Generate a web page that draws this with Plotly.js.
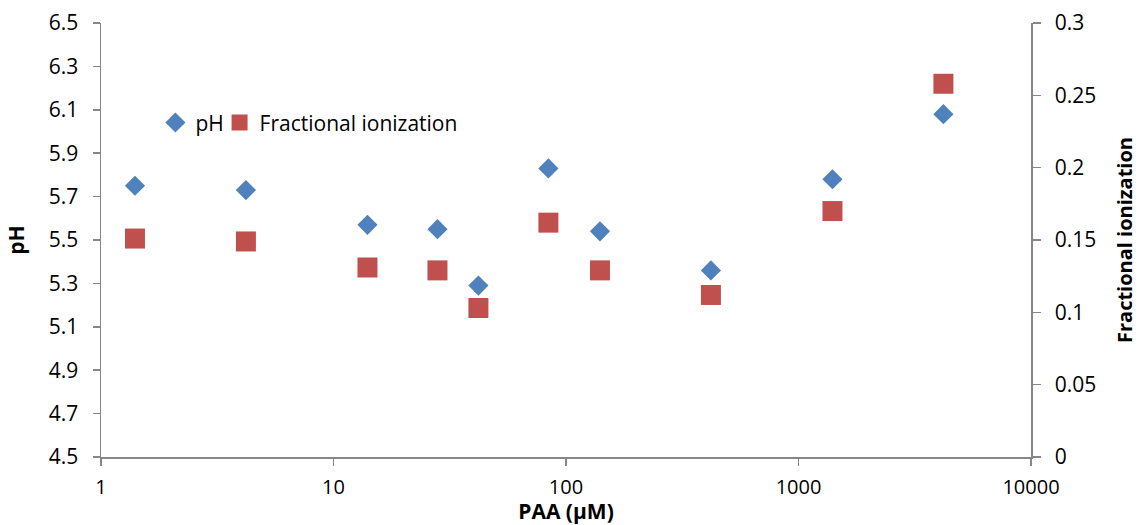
<!DOCTYPE html>
<html>
<head>
<meta charset="utf-8">
<script src="https://cdn.plot.ly/plotly-3.0.1.min.js"></script>
<style>
  html, body { margin: 0; padding: 0; background: #fff; }
  #chart { width: 1141px; height: 525px; }
</style>
</head>
<body>
<div id="chart"></div>
<script>
// PAA concentration (µM)
const paa = [1.4, 4.2, 14, 28, 42, 84, 140, 420, 1400, 4200];
// Measured pH
const ph = [5.75, 5.73, 5.57, 5.55, 5.29, 5.83, 5.54, 5.36, 5.78, 6.08];
// Fractional ionization
const fracIon = [0.151, 0.149, 0.131, 0.129, 0.103, 0.162, 0.129, 0.112, 0.170, 0.258];

const leftTicks = [4.5, 4.7, 4.9, 5.1, 5.3, 5.5, 5.7, 5.9, 6.1, 6.3, 6.5];
const rightTicks = [0, 0.05, 0.1, 0.15, 0.2, 0.25, 0.3];
const xTicks = [1, 10, 100, 1000, 10000];

const FONT = '"Open Sans", Lato, sans-serif';
const AXIS_GREY = '#868686';

const traces = [
  {
    x: paa, y: ph, name: 'pH', type: 'scatter', mode: 'markers',
    marker: { symbol: 'diamond', size: 15.5, color: '#4F81BD' },
    yaxis: 'y', legend: 'legend'
  },
  {
    x: paa, y: fracIon, name: 'Fractional ionization', type: 'scatter', mode: 'markers',
    marker: { symbol: 'square', size: 20, color: '#C0504D' },
    yaxis: 'y2', legend: 'legend2'
  }
];

// Two single-entry legends placed side by side in one row
const legendStyle = {
  orientation: 'h', yanchor: 'middle', xanchor: 'left', y: 0.77,
  font: { family: FONT, size: 21, color: '#000' },
  bgcolor: 'rgba(0,0,0,0)', itemsizing: 'trace'
};

const layout = {
  width: 1141, height: 525,
  margin: { l: 101, r: 110, t: 23, b: 68 },
  paper_bgcolor: '#fff', plot_bgcolor: '#fff',
  font: { family: FONT, size: 21, color: '#000' },
  showlegend: true,
  legend: Object.assign({}, legendStyle, { x: 0.0585 }),
  legend2: Object.assign({}, legendStyle, { x: 0.1275 }),
  xaxis: {
    type: 'log', range: [0, 4],
    tickvals: xTicks, ticktext: xTicks.map(String),
    tickfont: { family: FONT, size: 20 },
    showgrid: false, zeroline: false,
    showline: true, linecolor: AXIS_GREY, linewidth: 1.5,
    ticks: 'outside', ticklen: 7, tickcolor: AXIS_GREY, tickwidth: 1.5,
    ticklabelstandoff: 4,
    title: { text: '<b>PAA (µM)</b>', font: { family: FONT, size: 21 }, standoff: 3 },
    automargin: false
  },
  yaxis: {
    range: [4.5, 6.5],
    tickvals: leftTicks, ticktext: leftTicks.map(v => v.toFixed(1)),
    showgrid: false, zeroline: false,
    showline: true, linecolor: AXIS_GREY, linewidth: 1.5,
    ticks: 'outside', ticklen: 7, tickcolor: AXIS_GREY, tickwidth: 1.5,
    ticklabelstandoff: 10,
    title: { text: '<b>pH</b>', font: { family: FONT, size: 21 }, standoff: 18 },
    automargin: false
  },
  yaxis2: {
    overlaying: 'y', side: 'right',
    range: [0, 0.3],
    tickvals: rightTicks, ticktext: rightTicks.map(String),
    showgrid: false, zeroline: false,
    showline: true, linecolor: AXIS_GREY, linewidth: 1.5,
    ticks: 'outside', ticklen: 8, tickcolor: AXIS_GREY, tickwidth: 1.5,
    ticklabelstandoff: 10,
    title: { text: '<b>Fractional ionization</b>', font: { family: FONT, size: 20 }, standoff: 23 },
    automargin: false
  }
};

Plotly.newPlot('chart', traces, layout, { displayModeBar: false, staticPlot: true });
</script>
</body>
</html>
